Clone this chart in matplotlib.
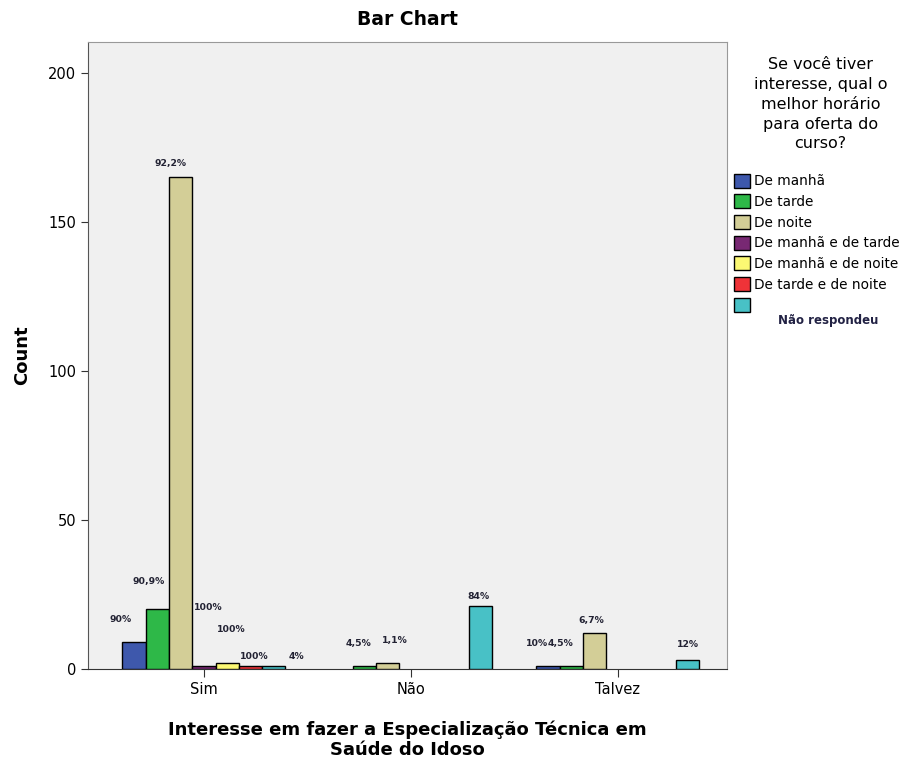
import numpy as np
import matplotlib.pyplot as plt

# data
categories = ["Sim", "Não", "Talvez"]
series = ["De manhã", "De tarde", "De noite", "De manhã e de tarde",
          "De manhã e de noite", "De tarde e de noite", "Não respondeu"]
counts = [
    [9, 0, 1],      # De manhã
    [20, 1, 1],     # De tarde
    [165, 2, 12],   # De noite
    [1, 0, 0],      # De manhã e de tarde
    [2, 0, 0],      # De manhã e de noite
    [1, 0, 0],      # De tarde e de noite
    [1, 21, 3],     # Não respondeu
]
pct_labels = [
    ["90%", None, "10%"],
    ["90,9%", "4,5%", "4,5%"],
    ["92,2%", "1,1%", "6,7%"],
    ["100%", None, None],
    ["100%", None, None],
    ["100%", None, None],
    ["4%", "84%", "12%"],
]
colors = ["#3e58ac", "#2eb848", "#d3ce97", "#782873", "#fbf873", "#ef3338", "#48c1c6"]

# label offsets in points (dx, dy), mimic SPSS placement
label_off = [
    [(-10, 13), None, (-8, 13)],
    [(-6, 17), (-4, 13), (-8, 13)],
    [(-7, 7), (5, 13), (-2, 6)],
    [(3, 39), None, None],
    [(3, 21), None, None],
    [(3, 4), None, None],
    [(16, 4), (-2, 4), (0, 8)],
]

fig = plt.figure(figsize=(9.2, 7.62), dpi=100)
ax = fig.add_axes([0.0957, 0.122, 0.695, 0.823])
ax.set_facecolor("#f0f0f0")

x = np.arange(len(categories))
w = 0.1126
for i, s in enumerate(series):
    pos = x + (i - 3) * w
    vals = np.array(counts[i], dtype=float)
    keep = vals > 0
    ax.bar(pos[keep], vals[keep], width=w, color=colors[i], edgecolor="black",
           linewidth=1.0, label=s if s != "Não respondeu" else " ", zorder=3)
    for j, v in enumerate(vals):
        lab = pct_labels[i][j]
        if lab is None:
            continue
        dx, dy = label_off[i][j]
        ax.annotate(lab, (pos[j], v), xytext=(dx, dy), textcoords="offset points",
                    ha="center", va="bottom", fontsize=6.7, fontweight="bold",
                    color="#222233")

ax.set_xlim(-0.56, 2.53)
ax.set_ylim(0, 210.5)
ax.set_xticks(x)
ax.set_xticklabels(categories, fontsize=10.5)
ax.set_yticks([0, 50, 100, 150, 200])
ax.tick_params(axis="y", labelsize=10.5, length=5, color="#333333")
ax.tick_params(axis="x", length=6, color="#333333")
for side in ["top", "right"]:
    ax.spines[side].set_color("#999999")
ax.spines["left"].set_color("#555555")
ax.spines["bottom"].set_color("#333333")

ax.set_title("Bar Chart", fontsize=13.5, fontweight="bold", pad=12)
ax.set_ylabel("Count", fontsize=13, fontweight="bold", labelpad=12)
ax.set_xlabel("Interesse em fazer a Especialização Técnica em\nSaúde do Idoso",
              fontsize=13, fontweight="bold", labelpad=17, linespacing=1.1)

fig.text(0.892, 0.925, "Se você tiver\ninteresse, qual o\nmelhor horário\npara oferta do\ncurso?",
         ha="center", va="top", fontsize=11.5, linespacing=1.4)

leg = fig.legend(loc="upper left", bbox_to_anchor=(0.79, 0.781), frameon=False,
                 fontsize=9.8, handlelength=1.2, handleheight=1.2, handletextpad=0.3,
                 labelspacing=0.45, borderpad=0)
fig.text(0.9, 0.58, "Não respondeu", ha="center", va="center", fontsize=8.5,
         fontweight="bold", color="#222244")

fig.savefig("out.png", dpi=100)
